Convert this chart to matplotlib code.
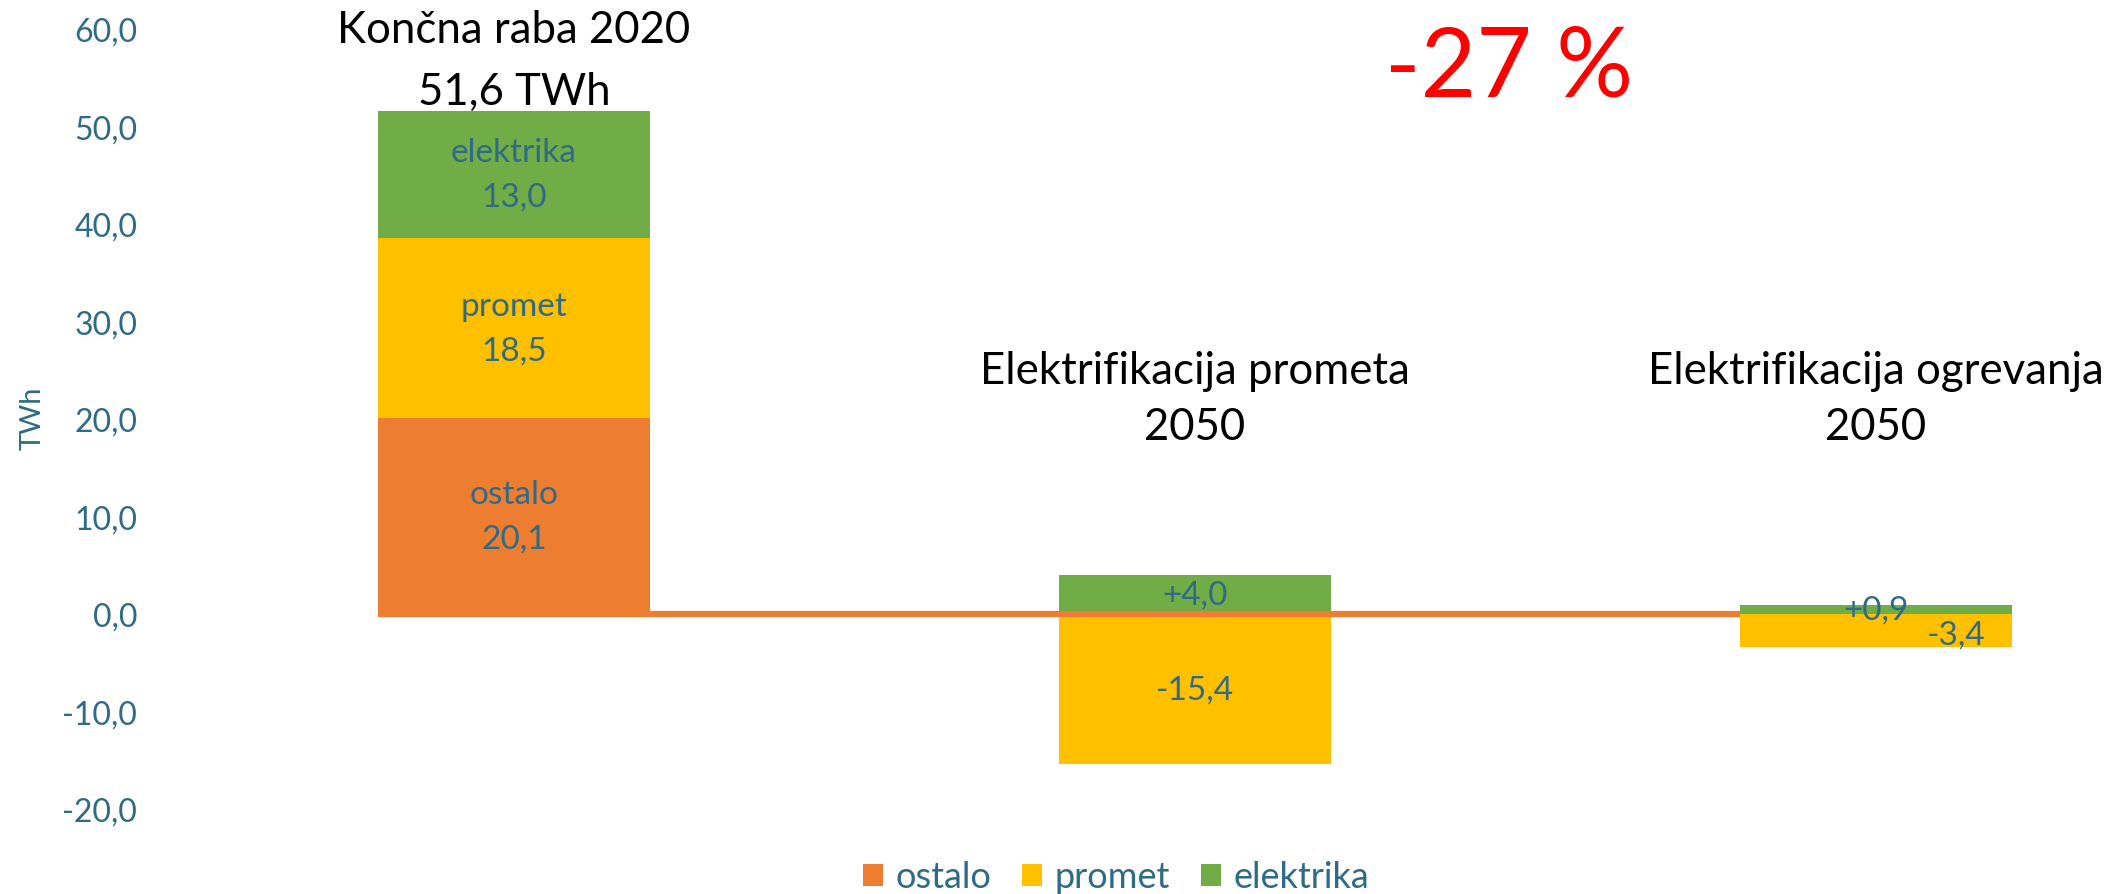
import numpy as np
import matplotlib.pyplot as plt

# data
categories = ['Končna raba 2020', 'Elektrifikacija prometa 2050', 'Elektrifikacija ogrevanja 2050']
series = ['ostalo', 'promet', 'elektrika']
ostalo = [20.1, 0.0, 0.0]
promet = [18.5, -15.4, -3.4]
elektrika = [13.0, 4.0, 0.9]
labels_ostalo = ['ostalo\n20,1', '', '']
labels_promet = ['promet\n18,5', '-15,4', '-3,4']
labels_elektrika = ['elektrika\n13,0', '+4,0', '+0,9']
total_2020 = '51,6 TWh'
change_text = '-27 %'
yticks = [-20, -10, 0, 10, 20, 30, 40, 50, 60]

colors = {'ostalo': '#ED7D31', 'promet': '#FFC000', 'elektrika': '#70AD47'}
txt_col = '#2F6B86'

plt.rcParams['font.family'] = ['Lato', 'DejaVu Sans']

W, H = 2113, 895
fig = plt.figure(figsize=(W / 100, H / 100), dpi=100)
ax = fig.add_axes([190 / W, 85 / H, (W - 190) / W, 780 / H])

x = np.arange(len(categories))
width = 0.4
pos_base = np.zeros(len(x))
neg_base = np.zeros(len(x))
for name, vals, labs in [('ostalo', ostalo, labels_ostalo),
                         ('promet', promet, labels_promet),
                         ('elektrika', elektrika, labels_elektrika)]:
    vals = np.array(vals)
    bottom = np.where(vals >= 0, pos_base, neg_base)
    bars = ax.bar(x, vals, width, bottom=bottom, color=colors[name], label=name, zorder=2)
    for i, (b, lab) in enumerate(zip(bars, labs)):
        if not lab:
            continue
        cx = b.get_x() + b.get_width() / 2
        cy = b.get_y() + b.get_height() / 2
        dx = 0
        if i == 2 and name == 'promet':
            dx = 58
            cy = b.get_y() + b.get_height() / 2 - 0.4
        ax.annotate(lab, (cx, cy), xytext=(dx, 0), textcoords='offset points',
                    ha='center', va='center', color=txt_col, fontsize=24,
                    linespacing=1.6, zorder=5)
    pos_base = pos_base + np.where(vals > 0, vals, 0)
    neg_base = neg_base + np.where(vals < 0, vals, 0)

# orange baseline (ostalo) between the bars
ax.hlines(0, x[0] - width / 2, x[2] - width / 2, color=colors['ostalo'], lw=4.5, zorder=3)

# headings
ax.text(x[0], 60.0, 'Končna raba 2020', ha='center', va='center', fontsize=31.5, color='black')
ax.text(x[0], 53.6, total_2020, ha='center', va='center', fontsize=31.5, color='black')
for i in (1, 2):
    name, year = categories[i].rsplit(' ', 1)
    ax.text(x[i], 25.0, name, ha='center', va='center', fontsize=31.5, color='black')
    ax.text(x[i], 19.2, year, ha='center', va='center', fontsize=31.5, color='black')
ax.text(1.461, 55.9, change_text, ha='center', va='center', fontsize=69, color='#FF0000')

ax.set_xlim((190 - 514) / 681, (2113 - 514) / 681)
ax.set_ylim(-20, 60)
ax.set_yticks(yticks)
ax.set_yticklabels([f'{v:.1f}'.replace('.', ',') for v in yticks])
ax.tick_params(axis='y', length=0, pad=38, labelsize=23, labelcolor=txt_col)
ax.set_xticks([])
for s in ax.spines.values():
    s.set_visible(False)
ax.set_ylabel('TWh', color=txt_col, fontsize=21)
ax.yaxis.set_label_coords((46 - 190) / 1923, (810 - 418) / 780)

fig.legend(loc='center', bbox_to_anchor=(1116 / W, 1 - 878 / H), ncol=3, frameon=False,
           fontsize=26, handlelength=0.55, handleheight=0.55, handletextpad=0.35,
           columnspacing=0.85, labelcolor=txt_col)

fig.savefig('out.png', dpi=100)
